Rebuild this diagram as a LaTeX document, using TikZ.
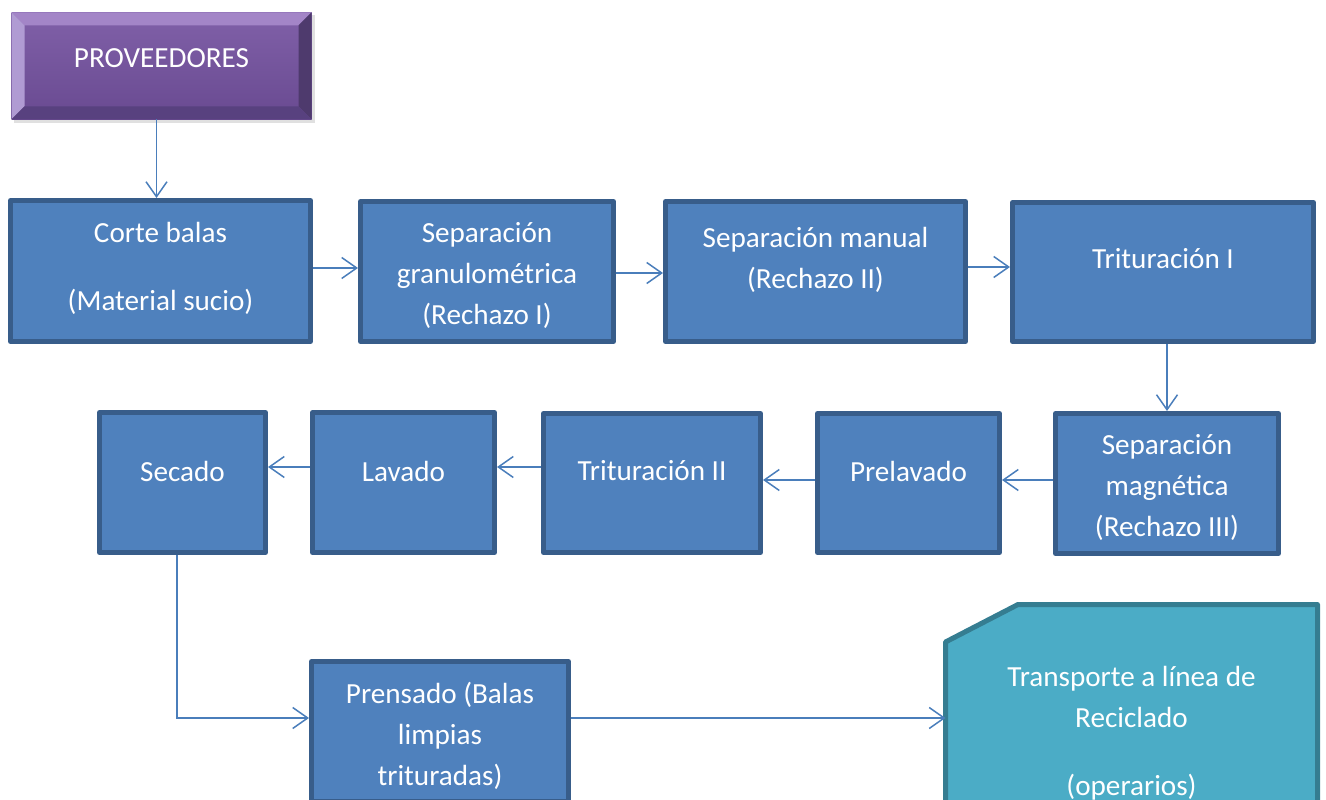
\documentclass[tikz,border=0pt]{standalone}
\usepackage{fontspec}
\setmainfont{Carlito}
\usetikzlibrary{arrows.meta,calc}

\newcommand{\upx}{0.02cm}

\definecolor{boxfill}{HTML}{4F81BD}
\definecolor{boxline}{HTML}{385D8A}
\definecolor{flowline}{HTML}{4A7EBB}
\definecolor{tealfill}{HTML}{4BACC6}
\definecolor{tealline}{HTML}{357D91}
\definecolor{purpface}{HTML}{8060A8}
\definecolor{purpfacedk}{HTML}{694A91}
\definecolor{purptop}{HTML}{A385C7}
\definecolor{purpleft}{HTML}{B09BD3}
\definecolor{purpright}{HTML}{4E3A6D}
\definecolor{purpbottom}{HTML}{58417F}

\tikzset{
  stepbox/.style={draw=boxline, fill=boxfill, line width=5*\upx, line join=round,
                  inner sep=0pt},
  frame/.style={inner sep=0pt, outer sep=0pt},
  label text/.style={text=white, align=center, inner sep=0pt,
                     font=\fontsize{16.6}{23.3}\selectfont},
  flow/.style={draw=flowline, line width=1.5*\upx,
               -{Straight Barb[length=15*\upx, width=21*\upx, line width=1.5*\upx]}},
}

\begin{document}
\begin{tikzpicture}[x=\upx, y=-\upx]
\useasboundingbox (0,0) rectangle (1326,800);
\clip (0,0) rectangle (1326,800);

% --- supplier block with bevelled edges
\node[frame, minimum width=300*\upx, minimum height=107*\upx] (prov) at (161.5,66) {};
\fill[black, opacity=0.12] ($(prov.north west)+(2,3)$) rectangle ($(prov.south east)+(3,4)$);
\shade[top color=purpface, bottom color=purpfacedk]
  (prov.north west) rectangle (prov.south east);
\fill[purptop] (prov.north west) -- (prov.north east) -- ($(prov.north east)+(-13,13)$)
  -- ($(prov.north west)+(13,13)$) -- cycle;
\fill[purpleft] (prov.north west) -- (prov.south west) -- ($(prov.south west)+(13,-13)$)
  -- ($(prov.north west)+(13,13)$) -- cycle;
\fill[purpright] (prov.north east) -- (prov.south east) -- ($(prov.south east)+(-13,-13)$)
  -- ($(prov.north east)+(-13,13)$) -- cycle;
\fill[purpbottom] (prov.south west) -- (prov.south east) -- ($(prov.south east)+(-13,-13)$)
  -- ($(prov.south west)+(13,-13)$) -- cycle;
\node[label text] (provtxt) at ($(prov.center)+(0,-8)$) {PROVEEDORES};

% --- first row
\node[stepbox, minimum width=300*\upx, minimum height=141*\upx] (corte) at (160.5,271) {};
\node[stepbox, minimum width=253*\upx, minimum height=140*\upx] (gran) at (487,271.5) {};
\node[stepbox, minimum width=300*\upx, minimum height=140*\upx] (manual) at (815.5,271.5) {};
\node[stepbox, minimum width=301*\upx, minimum height=139*\upx] (trit1) at (1163,272) {};

% --- second row
\node[stepbox, minimum width=223*\upx, minimum height=140*\upx] (magn) at (1167,483.5) {};
\node[stepbox, minimum width=182*\upx, minimum height=139*\upx] (prelav) at (908.5,483) {};
\node[stepbox, minimum width=217*\upx, minimum height=139*\upx] (trit2) at (652,483) {};
\node[stepbox, minimum width=182*\upx, minimum height=140*\upx] (lavado) at (403.5,482.5) {};
\node[stepbox, minimum width=166*\upx, minimum height=140*\upx] (secado) at (182.5,482.5) {};

% --- third row
\node[stepbox, minimum width=257*\upx, minimum height=140*\upx] (prensado) at (440,731.5) {};
\node[frame, minimum width=372*\upx, minimum height=253*\upx] (transp) at (1131.5,731) {};
\draw[fill=tealfill, draw=tealline, line width=5*\upx, line join=round]
  (transp.south west) -- ($(transp.north west)+(0,37.5)$) -- ($(transp.north west)+(72.5,0)$)
  -- (transp.north east) -- (transp.south east) -- cycle;

% --- texts
\node[label text] (tcorte) at ($(corte.center)+(0,-3)$) {Corte balas\\[15.4pt](Material sucio)};
\node[label text] (tgran) at ($(gran.center)+(0,4)$) {Separación\\granulométrica\\(Rechazo I)};
\node[label text] (tmanual) at ($(manual.center)+(0,-12)$) {Separación manual\\(Rechazo II)};
\node[label text] (ttrit1) at ($(trit1.center)+(0,-13)$) {Trituración I};
\node[label text] (tmagn) at ($(magn.center)+(0,4)$) {Separación\\magnética\\(Rechazo III)};
\node[label text] (tprelav) at ($(prelav.center)+(0,-12)$) {Prelavado};
\node[label text] (ttrit2) at ($(trit2.center)+(0,-12)$) {Trituración II};
\node[label text] (tlavado) at ($(lavado.center)+(0,-11.5)$) {Lavado};
\node[label text] (tsecado) at ($(secado.center)+(0,-11.5)$) {Secado};
\node[label text] (tprensado) at ($(prensado.center)+(0,4.5)$) {Prensado (Balas\\limpias\\trituradas)};
\node[label text] (ttransp) at ($(transp.center)+(0,2)$) {Transporte a línea de\\Reciclado\\[15.4pt](operarios)};

% --- connectors
\draw[flow] ([xshift=-5*\upx]prov.south) -- ([xshift=-5*\upx]prov.south |- corte.north);
\draw[flow] ([yshift=3*\upx]corte.east) -- ([yshift=3*\upx]corte.east -| gran.west);
\draw[flow] ([yshift=-1.5*\upx]gran.east) -- ([yshift=-1.5*\upx]gran.east -| manual.west);
\draw[flow] ([yshift=4.5*\upx]manual.east) -- ([yshift=4.5*\upx]manual.east -| trit1.west);
\draw[flow] (trit1.south -| magn.north) -- (magn.north);
\draw[flow] ([yshift=3.5*\upx]magn.west) -- ([yshift=3.5*\upx]magn.west -| prelav.east);
\draw[flow] ([yshift=3*\upx]prelav.west) -- ([yshift=3*\upx]prelav.west -| trit2.east);
\draw[flow] ([yshift=16*\upx]trit2.west) -- ([yshift=16*\upx]trit2.west -| lavado.east);
\draw[flow] ([yshift=15.5*\upx]lavado.west) -- ([yshift=15.5*\upx]lavado.west -| secado.east);
\draw[flow] ([xshift=-5.5*\upx]secado.south) |- ([yshift=13.5*\upx]prensado.west);
\draw[flow] ([yshift=13.5*\upx]prensado.east) -- ([yshift=13.5*\upx]prensado.east -| transp.west);
\end{tikzpicture}
\end{document}
